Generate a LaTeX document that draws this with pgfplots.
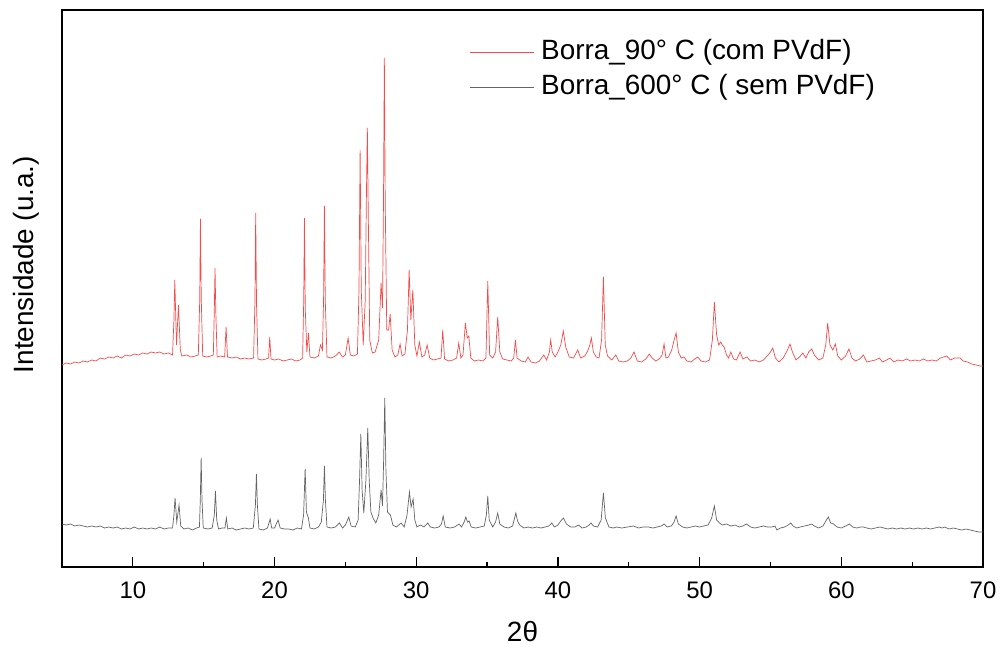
\documentclass[border=0pt]{standalone}
\usepackage{fontspec}
\setmainfont{Liberation Sans}
\usepackage{pgfplots}
\pgfplotsset{compat=1.18}
\definecolor{redline}{RGB}{245,75,75}
\definecolor{grayline}{RGB}{100,100,100}
\begin{document}
\begin{tikzpicture}
\begin{axis}[
  scale only axis,
  width=921bp, height=557bp,
  xmin=5, xmax=70, ymin=-567, ymax=-10,
  xtick={10,20,...,70},
  minor xtick={15,25,...,65},
  xtick pos=bottom,
  ytick=\empty,
  tick align=inside,
  major tick length=10bp,
  minor tick length=5bp,
  every tick/.style={line width=1.3bp, black},
  axis line style={line width=1.5bp},
  /pgf/number format/assume math mode=true,
  ticklabel style={font=\fontsize{24}{28}\selectfont},
  xticklabel style={yshift=-11bp},
  xlabel={2θ},
  ylabel={Intensidade (u.a.)},
  label style={font=\fontsize{28}{34}\selectfont},
  xlabel style={yshift=-16bp},
  ylabel style={yshift=19bp, xshift=24bp},
  legend style={draw=none, fill=none, at={(0.442,0.955)}, anchor=north west,
    font=\fontsize{28}{34}\selectfont, inner sep=0pt,
    nodes={inner sep=2bp, text height=22bp, text depth=9bp}},
  legend cell align=left,
  legend image code/.code={\draw[#1, line width=1.2bp] (0bp,0bp) -- (64bp,0bp); \path (69bp,0bp);},
]
\addplot[draw=redline, line width=0.7bp] coordinates {
(5.0,-365)(5.3,-363)(5.6,-364)(5.9,-362)(6.2,-363)(6.5,-361)(6.8,-362)(7.1,-360)(7.4,-361)(7.7,-358)
(8.0,-359)(8.3,-357)(8.6,-358)(8.9,-356)(9.2,-358)(9.5,-355)(9.8,-356)(10.1,-354)(10.4,-355)(10.7,-353)
(11.0,-354)(11.3,-352)(11.6,-353)(11.9,-352)(12.2,-354)(12.5,-353)(12.8,-355)(12.9,-320)(12.96,-280)(13.08,-345)
(13.22,-305)(13.35,-350)(13.45,-356)(13.8,-355)(14.1,-357)(14.4,-356)(14.62,-355)(14.72,-300)(14.77,-219)(14.83,-300)
(14.93,-356)(15.2,-357)(15.5,-356)(15.68,-355)(15.75,-310)(15.80,-268)(15.86,-315)(15.95,-357)(16.2,-356)(16.48,-357)
(16.58,-327)(16.68,-357)(17.0,-358)(17.3,-357)(17.6,-359)(17.9,-358)(18.2,-359)(18.52,-358)(18.62,-300)(18.67,-213)
(18.73,-305)(18.83,-359)(19.1,-360)(19.4,-359)(19.58,-358)(19.66,-337)(19.75,-359)(20.0,-360)(20.3,-359)(20.6,-361)
(20.9,-360)(21.2,-359)(21.5,-361)(21.8,-360)(21.98,-358)(22.06,-300)(22.11,-218)(22.17,-310)(22.28,-352)(22.39,-333)
(22.5,-357)(22.8,-358)(23.1,-356)(23.24,-345)(23.38,-350)(23.46,-300)(23.52,-206)(23.58,-300)(23.7,-357)(24.0,-358)
(24.3,-356)(24.56,-352)(24.8,-357)(25.0,-355)(25.19,-338)(25.35,-355)(25.6,-356)(25.85,-354)(25.96,-290)(26.04,-150)
(26.12,-290)(26.26,-345)(26.40,-300)(26.48,-200)(26.55,-128)(26.62,-220)(26.72,-340)(26.9,-353)(27.1,-352)(27.35,-340)
(27.52,-283)(27.62,-308)(27.69,-200)(27.75,-58)(27.81,-200)(27.92,-330)(28.05,-330)(28.16,-314)(28.3,-350)(28.5,-357)
(28.7,-355)(28.86,-344)(29.0,-356)(29.2,-354)(29.38,-330)(29.5,-270)(29.62,-320)(29.76,-290)(29.9,-345)(30.05,-356)
(30.22,-342)(30.4,-357)(30.6,-355)(30.77,-345)(30.95,-358)(31.2,-360)(31.5,-359)(31.75,-358)(31.87,-330)(32.0,-359)
(32.3,-361)(32.6,-360)(32.85,-358)(33.0,-343)(33.15,-358)(33.3,-355)(33.47,-323)(33.6,-338)(33.71,-336)(33.85,-358)
(34.1,-361)(34.4,-360)(34.7,-361)(34.92,-358)(35.05,-281)(35.18,-355)(35.4,-358)(35.6,-352)(35.75,-317)(35.9,-352)
(36.1,-359)(36.4,-360)(36.7,-361)(36.88,-358)(37.0,-340)(37.12,-358)(37.4,-361)(37.7,-362)(37.89,-357)(38.1,-362)
(38.4,-363)(38.7,-361)(39.0,-355)(39.2,-360)(39.4,-352)(39.49,-340)(39.6,-352)(39.8,-357)(40.0,-352)(40.2,-345)
(40.38,-331)(40.55,-347)(40.8,-357)(41.1,-358)(41.4,-350)(41.6,-358)(41.9,-356)(42.13,-350)(42.25,-345)(42.36,-338)
(42.5,-352)(42.7,-357)(42.9,-358)(43.08,-340)(43.21,-277)(43.34,-345)(43.5,-356)(43.8,-360)(44.08,-355)(44.3,-361)
(44.6,-362)(44.9,-361)(45.15,-358)(45.37,-352)(45.6,-361)(45.9,-362)(46.2,-359)(46.45,-354)(46.65,-358)(46.9,-361)
(47.15,-359)(47.35,-355)(47.49,-344)(47.62,-358)(47.8,-357)(48.03,-350)(48.2,-340)(48.34,-333)(48.5,-352)(48.7,-358)
(48.9,-357)(49.1,-361)(49.4,-362)(49.65,-359)(49.87,-357)(50.1,-361)(50.4,-362)(50.7,-360)(50.9,-340)(51.04,-302)
(51.2,-335)(51.35,-345)(51.49,-342)(51.6,-345)(51.73,-347)(51.9,-355)(52.05,-358)(52.2,-352)(52.4,-359)(52.6,-360)
(52.86,-352)(53.05,-359)(53.33,-357)(53.6,-361)(53.9,-360)(54.2,-362)(54.5,-360)(54.83,-355)(55.0,-352)(55.16,-348)
(55.35,-358)(55.6,-362)(55.9,-358)(56.2,-350)(56.38,-344)(56.55,-352)(56.8,-360)(57.05,-357)(57.28,-353)(57.5,-358)
(57.7,-352)(57.91,-349)(58.1,-355)(58.4,-360)(58.7,-358)(58.9,-345)(59.04,-323)(59.2,-345)(59.4,-350)(59.58,-344)
(59.75,-356)(60.0,-360)(60.3,-356)(60.54,-349)(60.75,-358)(61.0,-361)(61.3,-359)(61.56,-355)(61.8,-362)(62.1,-361)
(62.4,-360)(62.69,-358)(62.9,-362)(63.2,-360)(63.44,-358)(63.7,-362)(64.0,-360)(64.3,-361)(64.6,-359)(64.9,-361)
(65.2,-360)(65.5,-361)(65.8,-359)(66.1,-361)(66.4,-360)(66.7,-361)(67.0,-358)(67.2,-357)(67.44,-356)(67.7,-360)
(68.0,-358)(68.38,-358)(68.6,-361)(68.9,-362)(69.2,-364)(69.5,-365)(69.8,-366)(70.0,-366)
};
\addlegendentry{Borra\_90° C (com PVdF)}
\addplot[draw=grayline, line width=0.7bp] coordinates {
(5.0,-524)(5.3,-525)(5.6,-524)(5.9,-526)(6.2,-525)(6.5,-526)(6.8,-527)(7.1,-526)(7.4,-527)(7.7,-526)
(8.0,-528)(8.3,-527)(8.6,-528)(8.9,-527)(9.2,-529)(9.5,-528)(9.8,-529)(10.1,-527)(10.4,-529)(10.7,-528)
(11.0,-529)(11.3,-528)(11.6,-529)(11.9,-527)(12.2,-529)(12.5,-528)(12.8,-528)(12.9,-515)(12.98,-498)(13.1,-522)
(13.26,-505)(13.38,-526)(13.6,-529)(13.9,-528)(14.2,-530)(14.5,-528)(14.7,-527)(14.76,-500)(14.82,-458)(14.88,-500)
(14.97,-528)(15.3,-529)(15.6,-528)(15.75,-515)(15.83,-491)(15.92,-520)(16.05,-529)(16.3,-528)(16.5,-528)(16.6,-518)
(16.7,-529)(17.0,-528)(17.3,-530)(17.6,-529)(17.9,-528)(18.2,-529)(18.5,-528)(18.65,-505)(18.72,-474)(18.79,-505)
(18.9,-529)(19.2,-530)(19.5,-528)(19.69,-519)(19.8,-528)(20.0,-528)(20.25,-520)(20.4,-528)(20.7,-529)(21.0,-529)
(21.3,-530)(21.6,-528)(21.9,-529)(22.05,-515)(22.16,-469)(22.25,-512)(22.39,-518)(22.5,-528)(22.8,-529)(23.1,-527)
(23.3,-522)(23.45,-500)(23.52,-466)(23.59,-500)(23.7,-527)(24.0,-528)(24.3,-527)(24.58,-523)(24.8,-528)(25.0,-525)
(25.24,-517)(25.4,-526)(25.7,-527)(25.9,-520)(26.0,-480)(26.09,-434)(26.18,-490)(26.3,-513)(26.45,-480)(26.58,-428)
(26.68,-480)(26.8,-512)(26.95,-518)(27.15,-523)(27.35,-515)(27.52,-490)(27.62,-506)(27.7,-460)(27.78,-398)(27.86,-470)
(27.97,-512)(28.18,-515)(28.35,-525)(28.6,-527)(28.93,-523)(29.15,-527)(29.35,-515)(29.52,-492)(29.64,-507)(29.78,-499)
(29.9,-520)(30.05,-527)(30.3,-525)(30.55,-527)(30.81,-523)(31.0,-527)(31.3,-528)(31.6,-527)(31.78,-524)(31.9,-516)
(32.05,-527)(32.4,-528)(32.7,-527)(33.02,-524)(33.2,-527)(33.38,-522)(33.5,-517)(33.62,-522)(33.73,-521)(33.88,-527)
(34.2,-528)(34.5,-527)(34.8,-526)(34.95,-515)(35.05,-496)(35.15,-520)(35.4,-527)(35.6,-522)(35.75,-513)(35.9,-524)
(36.2,-527)(36.5,-528)(36.8,-526)(37.03,-513)(37.15,-521)(37.3,-525)(37.6,-528)(37.9,-527)(38.2,-528)(38.5,-527)
(38.8,-528)(39.1,-527)(39.35,-526)(39.57,-523)(39.75,-527)(40.0,-525)(40.2,-521)(40.39,-518)(40.6,-524)(40.9,-527)
(41.2,-527)(41.45,-525)(41.7,-528)(42.0,-527)(42.2,-525)(42.34,-523)(42.5,-526)(42.8,-527)(43.05,-520)(43.21,-493)
(43.35,-518)(43.6,-527)(43.9,-528)(44.15,-527)(44.5,-528)(44.9,-527)(45.33,-526)(45.7,-528)(46.0,-527)(46.39,-527)
(46.7,-528)(47.0,-527)(47.3,-526)(47.49,-524)(47.7,-527)(48.0,-526)(48.2,-522)(48.34,-516)(48.5,-524)(48.8,-527)
(49.1,-528)(49.4,-527)(49.7,-526)(50.0,-527)(50.3,-526)(50.6,-525)(50.85,-518)(51.04,-506)(51.2,-520)(51.4,-523)
(51.6,-525)(51.9,-524)(52.2,-526)(52.5,-525)(52.8,-527)(53.05,-526)(53.3,-524)(53.6,-527)(53.9,-528)(54.2,-527)
(54.5,-526)(54.8,-527)(55.1,-527)(55.32,-526)(55.45,-530)(55.7,-528)(56.0,-527)(56.25,-525)(56.43,-523)(56.6,-526)
(56.85,-528)(57.1,-527)(57.4,-526)(57.7,-525)(57.91,-524)(58.1,-526)(58.4,-528)(58.7,-526)(58.95,-520)(59.08,-517)
(59.25,-523)(59.45,-524)(59.7,-527)(60.0,-528)(60.3,-526)(60.57,-524)(60.8,-527)(61.1,-528)(61.35,-527)(61.56,-527)
(61.8,-528)(62.1,-529)(62.4,-528)(62.73,-527)(63.0,-528)(63.3,-529)(63.6,-528)(63.9,-529)(64.2,-528)(64.5,-529)
(64.8,-528)(65.1,-529)(65.4,-528)(65.7,-529)(66.0,-528)(66.3,-529)(66.6,-528)(66.9,-527)(67.1,-528)(67.3,-527)
(67.6,-529)(67.9,-528)(68.2,-529)(68.5,-530)(68.8,-529)(69.1,-530)(69.4,-531)(69.7,-532)(70.0,-532)
};
\addlegendentry{Borra\_600° C ( sem PVdF)}
\end{axis}
\pgfresetboundingbox
\path ([xshift=-62bp,yshift=-83bp]current axis.south west) rectangle ([xshift=21bp,yshift=10bp]current axis.north east);
\end{tikzpicture}
\end{document}
